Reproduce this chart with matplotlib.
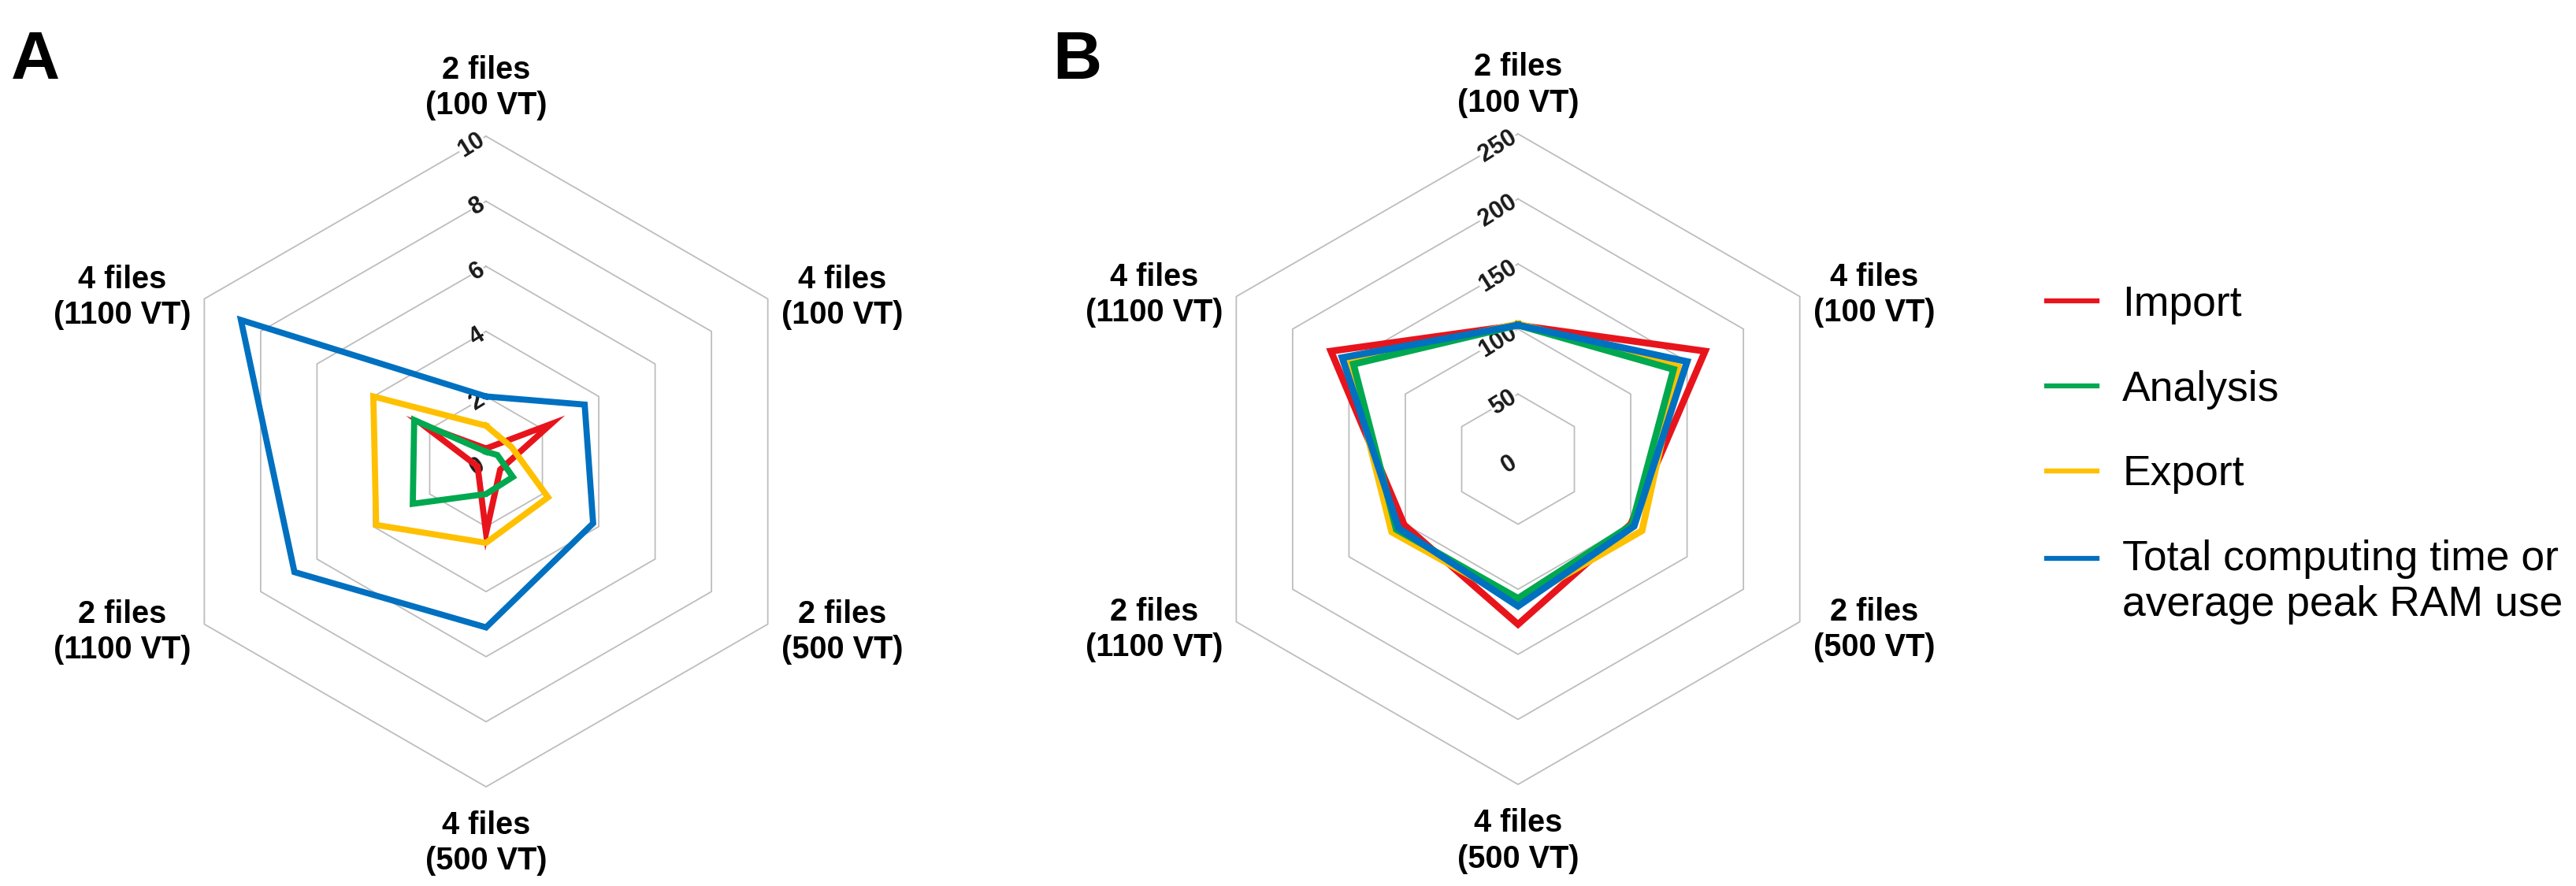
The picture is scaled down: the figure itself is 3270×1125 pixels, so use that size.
import numpy as np
import matplotlib
matplotlib.use("Agg")
import matplotlib.pyplot as plt
from matplotlib.lines import Line2D
from matplotlib.legend_handler import HandlerLine2D
import matplotlib.transforms as mtransforms

plt.rcParams['font.family'] = ['Liberation Sans', 'DejaVu Sans']

# ---------------- data ----------------
axis_labels = ["2 files\n(100 VT)", "4 files\n(100 VT)", "2 files\n(500 VT)",
               "4 files\n(500 VT)", "2 files\n(1100 VT)", "4 files\n(1100 VT)"]
series_names = ["Import", "Analysis", "Export",
                "Total computing time or\naverage peak RAM use"]
series_colors = ["#e8141c", "#00a84f", "#ffc000", "#0070c0"]

# Panel A (computing time)
a_import = [0.4, 2.3, 0.5, 2.2, 0.3, 2.2]
a_analysis = [0.3, 0.4, 0.95, 1.0, 2.6, 2.55]
a_export = [1.1, 0.9, 2.2, 2.5, 3.9, 4.0]
a_total = [2.0, 3.5, 3.8, 5.1, 6.8, 8.7]
a_ticks = [0, 2, 4, 6, 8, 10]

# Panel B (peak RAM use)
b_import = [103, 166, 100, 127, 101, 166]
b_analysis = [103, 138, 101, 107, 108, 146]
b_export = [104, 142, 110, 110, 112, 150]
b_total = [103, 150, 103, 113, 106, 156]
b_ticks = [0, 50, 100, 150, 200, 250]

# ---------------- figure ----------------
W, H = 3270, 1125
fig = plt.figure(figsize=(W / 100, H / 100), dpi=100)

R_PX = 413
LABEL_FS = 28.5
TICK_FS = 22


def make_ax(cx, cy):
    rect = [(cx - R_PX) / W, (H - cy - R_PX) / H, 2 * R_PX / W, 2 * R_PX / H]
    ax = fig.add_axes(rect, projection='polar')
    ax.set_theta_zero_location('N')
    ax.set_theta_direction(-1)
    ax.grid(False)
    ax.spines['polar'].set_visible(False)
    ax.set_xticks([])
    ax.set_yticks([])
    ax.patch.set_visible(False)
    return ax


def off(ax, dx, dy):
    return mtransforms.offset_copy(ax.transData, fig=fig, x=dx, y=dy, units='dots')


def draw_radar(ax, ticks, series, lw, zorders):
    n = len(axis_labels)
    theta = np.arange(n) * 2 * np.pi / n
    th_closed = np.append(theta, theta[0])
    rmax = ticks[-1]
    ax.set_ylim(0, rmax)
    # hexagonal grid
    for v in ticks[1:]:
        ax.plot(th_closed, [v] * (n + 1), color='#bdbdbd', lw=1.3, zorder=1,
                clip_on=False)
    # tick labels along the top axis
    for v in ticks:
        ax.text(0, v, str(v), transform=off(ax, -4, -2), rotation=32,
                rotation_mode='anchor', ha='right', va='center',
                fontsize=TICK_FS, fontweight='bold', color='#1a1a1a', zorder=2,
                bbox=dict(facecolor='white', edgecolor='none', pad=0.5))
    # series
    for vals, col, z in zip(series, series_colors, zorders):
        ax.plot(th_closed, list(vals) + [vals[0]], color=col, lw=lw,
                solid_joinstyle='miter', zorder=z, clip_on=False)
    # axis labels
    kw = dict(multialignment='center', fontsize=LABEL_FS, fontweight='bold',
              linespacing=1.25)
    specs = [  # (dx, dy, ha, va)
        (0, 20, 'center', 'bottom'),
        (17, 2, 'left', 'center'),
        (17, -10, 'left', 'center'),
        (0, -30, 'center', 'top'),
        (-17, -10, 'right', 'center'),
        (-17, 2, 'right', 'center'),
    ]
    for t, lab, (dx, dy, ha, va) in zip(theta, axis_labels, specs):
        ax.text(t, rmax, lab, transform=off(ax, dx, dy), ha=ha, va=va, **kw)


axA = make_ax(617, 586)
draw_radar(axA, a_ticks, [a_import, a_analysis, a_export, a_total], 5.6,
           [3, 5, 4, 6])

axB = make_ax(1927, 583)
draw_radar(axB, b_ticks, [b_import, b_analysis, b_export, b_total], 6.2,
           [3, 5, 4, 6])

# panel letters
fig.text(14 / W, 1 - 100 / H, "A", fontsize=62, fontweight='bold', va='baseline')
fig.text(1336 / W, 1 - 100 / H, "B", fontsize=62, fontweight='bold', va='baseline')


# legend
class ShiftedLine(HandlerLine2D):
    def __init__(self, shift=0.0, **kw):
        super().__init__(**kw)
        self.shift = shift

    def create_artists(self, legend, orig_handle, xdescent, ydescent, width,
                       height, fontsize, trans):
        return super().create_artists(legend, orig_handle, xdescent,
                                      ydescent - self.shift, width, height,
                                      fontsize, trans)


handles = [Line2D([], [], color=c, lw=4.5) for c in series_colors]
leg = fig.legend(handles, series_names, loc='upper left',
                 bbox_to_anchor=(2598 / W, 1 - 362 / H), frameon=False,
                 fontsize=38.5, handlelength=1.2, handletextpad=0.6,
                 labelspacing=1.08, borderpad=0, borderaxespad=0,
                 handler_map={handles[3]: ShiftedLine(shift=44)})

fig.savefig("out.png", dpi=100, facecolor='white')
